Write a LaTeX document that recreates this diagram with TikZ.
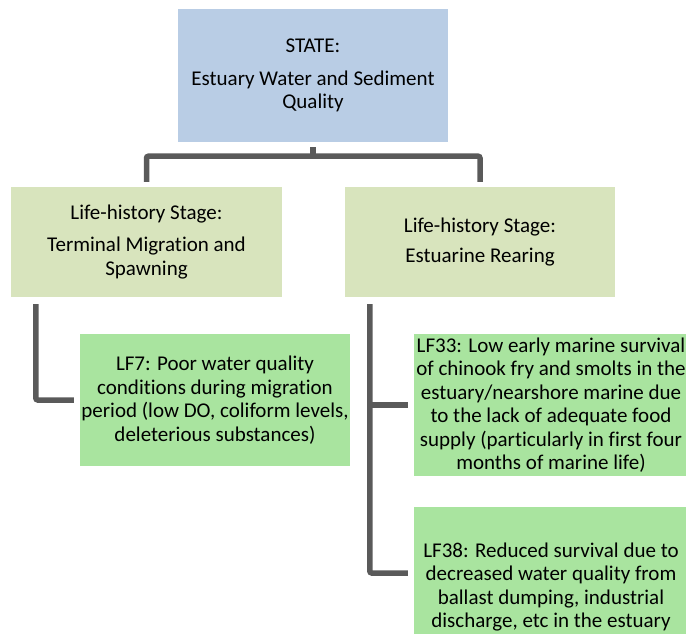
\documentclass[tikz,border=0pt]{standalone}
\usepackage{fontspec}
\setmainfont[Ligatures=NoCommon]{Carlito}
\definecolor{statefill}{RGB}{185,205,229}
\definecolor{lhfill}{RGB}{216,228,189}
\definecolor{lffill}{RGB}{169,228,159}
\definecolor{conncol}{RGB}{90,90,90}
\begin{document}
\begin{tikzpicture}[x=1pt,y=-1pt,
  box/.style={draw=none, inner sep=0pt, align=center, text=black,
    font=\fontsize{21}{23.5}\selectfont},
  statebox/.style={box, fill=statefill},
  lhbox/.style={box, fill=lhfill},
  lfbox/.style={box, fill=lffill},
  conn/.style={draw=conncol, line width=5.5pt, rounded corners=2pt}]
\useasboundingbox (0,0) rectangle (686,633);
\clip (0,0) rectangle (686,633);
\node[statebox, minimum width=270pt, minimum height=133pt] (state) at (313,75.5)
  {STATE:\\[9pt]Estuary Water and Sediment\\Quality};
\node[lhbox, minimum width=271pt, minimum height=110pt] (lhL) at (146.5,242)
  {Life-history Stage:\\[9pt]Terminal Migration and\\Spawning};
\node[lhbox, minimum width=270pt, minimum height=110pt] (lhR) at (480,242)
  {Life-history Stage:\\[7pt]Estuarine Rearing};
\node[lfbox, minimum width=270pt, minimum height=132pt] (lf7) at (215,400)
  {LF7: Poor water quality\\conditions during migration\\period (low DO, coliform levels,\\deleterious substances)};
\node[lfbox, minimum width=274pt, minimum height=142pt] (lf33) at (551,405)
  {LF33: Low early marine survival\\of chinook fry and smolts in the\\estuary/nearshore marine due\\to the lack of adequate food\\supply (particularly in first four\\months of marine life)};
\node[lfbox, minimum width=274pt, minimum height=160pt] (lf38) at (551,587)
  {LF38: Reduced survival due to\\decreased water quality from\\ballast dumping, industrial\\discharge, etc in the estuary};
% state to life-history stages
\draw[conn] ([yshift=-5pt]state.south) -- ([yshift=-14pt]state.south);
\draw[conn] ([yshift=5pt]lhL.north) -- ([yshift=-14pt]state.south -| lhL.north)
  -- ([yshift=-14pt]state.south -| lhR.north) -- ([yshift=5pt]lhR.north);
% left stage to LF7
\draw[conn] ([xshift=25pt,yshift=-7pt]lhL.south west) |- ([xshift=-6pt]lf7.west);
% right stage to LF33 and LF38
\coordinate (rtop) at ([xshift=25pt,yshift=-7pt]lhR.south west);
\draw[conn] (rtop) |- ([xshift=-6pt,yshift=14pt]lf38.west);
\draw[conn] (rtop |- lf33.west) -- ([xshift=-6pt]lf33.west);
\end{tikzpicture}
\end{document}
